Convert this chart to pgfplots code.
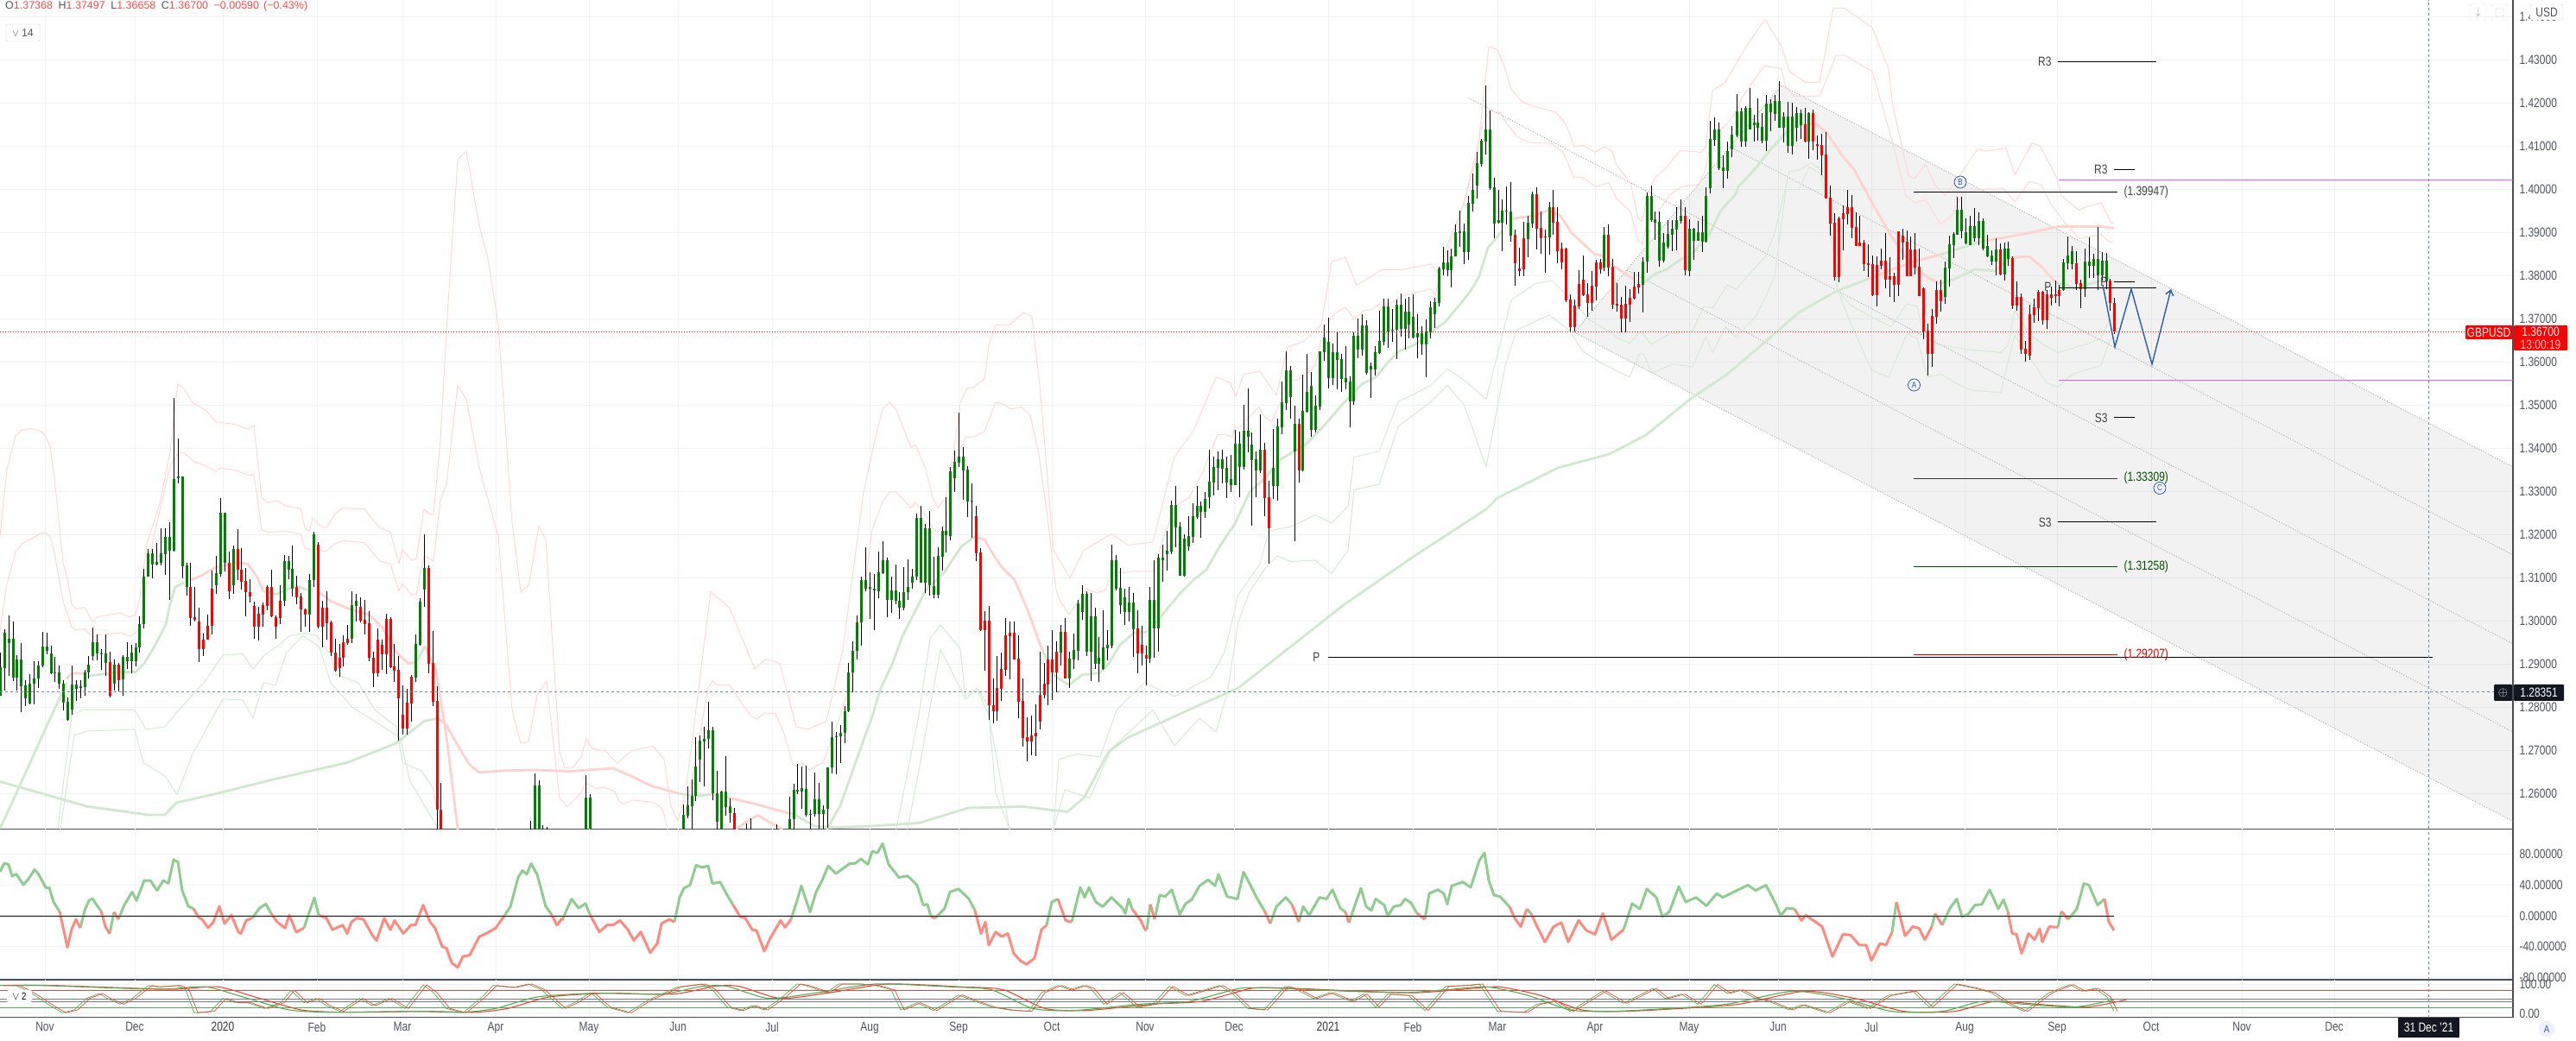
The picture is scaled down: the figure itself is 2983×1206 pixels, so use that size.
\documentclass[border=0pt]{standalone}
\usepackage{fontspec}
\setmainfont[FakeStretch=0.8]{Liberation Sans}
\newfontfamily\hdr{Liberation Sans}
\usepackage{pgfplots}
\usepackage{pgfplotstable}
\pgfplotsset{compat=1.18}
\usetikzlibrary{arrows.meta}

\definecolor{upc}{HTML}{008000}
\definecolor{dnc}{HTML}{FF0000}
\definecolor{bandr}{HTML}{FFD8D6}
\definecolor{bandg}{HTML}{D6E8D6}
\definecolor{mar}{HTML}{FFD2D0}
\definecolor{mag}{HTML}{D2E7D0}
\definecolor{gridc}{HTML}{F0F3F6}
\definecolor{axc}{HTML}{4A4E59}
\definecolor{txt}{HTML}{50535E}
\definecolor{crossc}{HTML}{758696}
\definecolor{pinkc}{HTML}{E060F5}
\definecolor{zigc}{HTML}{2A5CAA}
\definecolor{ccig}{HTML}{8FCC8F}
\definecolor{ccir}{HTML}{FF8A80}
\definecolor{fibc}{HTML}{A8A8A8}
\definecolor{darkc}{HTML}{131722}
\definecolor{stg}{HTML}{4CAF50}
\definecolor{str}{HTML}{F44336}
\definecolor{stm}{HTML}{787B86}
\definecolor{hdrr}{HTML}{FF4A4A}

\newcommand{\tv}{\fontsize{15}{16}\selectfont}

% daily GBPUSD candles: x in chart pixels, price read off the scale
\pgfplotstableread{
x o h l c
0 1.2826 1.2926 1.2826 1.2892
5 1.2890 1.2980 1.2839 1.2972
10 1.2948 1.3012 1.2872 1.2959
15 1.2869 1.2999 1.2860 1.2959
19 1.2869 1.2920 1.2839 1.2911
24 1.2849 1.2949 1.2788 1.2911
29 1.2820 1.2862 1.2802 1.2851
34 1.2808 1.2877 1.2807 1.2855
39 1.2854 1.2906 1.2806 1.2867
44 1.2866 1.2906 1.2844 1.2897
49 1.2896 1.2974 1.2892 1.2941
54 1.2931 1.2972 1.2922 1.2941
59 1.2879 1.2942 1.2876 1.2924
63 1.2879 1.2916 1.2858 1.2881
68 1.2854 1.2897 1.2842 1.2880
73 1.2811 1.2862 1.2792 1.2855
78 1.2771 1.2822 1.2769 1.2812
83 1.2794 1.2897 1.2782 1.2852
88 1.2842 1.2862 1.2814 1.2852
93 1.2844 1.2862 1.2820 1.2849
98 1.2847 1.2887 1.2826 1.2880
102 1.2880 1.2919 1.2866 1.2899
107 1.2919 1.2984 1.2908 1.2951
112 1.2924 1.2969 1.2909 1.2951
117 1.2922 1.2934 1.2886 1.2924
122 1.2902 1.2969 1.2872 1.2924
127 1.2904 1.2929 1.2822 1.2827
132 1.2854 1.2911 1.2839 1.2899
137 1.2899 1.2902 1.2836 1.2862
142 1.2864 1.2920 1.2826 1.2917
147 1.2907 1.2951 1.2889 1.2917
152 1.2907 1.2944 1.2878 1.2927
157 1.2907 1.2949 1.2894 1.2939
161 1.2938 1.3011 1.2927 1.2992
166 1.2992 1.3121 1.2982 1.3103
171 1.3102 1.3167 1.3102 1.3157
176 1.3130 1.3166 1.3099 1.3157
181 1.3131 1.3181 1.3129 1.3137
186 1.3135 1.3214 1.3129 1.3156
191 1.3154 1.3214 1.3106 1.3195
196 1.3162 1.3229 1.3049 1.3195
201 1.3162 1.3516 1.3161 1.3329
206 1.3331 1.3422 1.3319 1.3335
211 1.3127 1.3334 1.3098 1.3334
216 1.3078 1.3135 1.3058 1.3129
220 1.3079 1.3134 1.2988 1.3007
225 1.3009 1.3079 1.2999 1.3002
230 1.2999 1.3031 1.2904 1.2934
235 1.2957 1.2971 1.2919 1.2934
240 1.2989 1.3015 1.2956 1.2956
245 1.3075 1.3117 1.2968 1.2988
250 1.3083 1.3151 1.3062 1.3111
255 1.3109 1.3285 1.3102 1.3251
260 1.3134 1.3251 1.3114 1.3251
265 1.3135 1.3161 1.3051 1.3069
270 1.3082 1.3175 1.3062 1.3167
275 1.3167 1.3212 1.3094 1.3118
279 1.3119 1.3169 1.3072 1.3091
284 1.3092 1.3122 1.3011 1.3066
289 1.3067 1.3097 1.3042 1.3056
294 1.3035 1.3044 1.2959 1.2987
299 1.3017 1.3032 1.2954 1.2987
304 1.3037 1.3042 1.2987 1.3015
309 1.3079 1.3083 1.3024 1.3035
314 1.3079 1.3119 1.3009 1.3010
319 1.3009 1.3012 1.2959 1.2987
324 1.3047 1.3083 1.2992 1.3007
329 1.3046 1.3152 1.3034 1.3139
334 1.3119 1.3151 1.3096 1.3139
338 1.3075 1.3174 1.3056 1.3121
343 1.3079 1.3104 1.3039 1.3055
348 1.3057 1.3064 1.2974 1.3026
353 1.3027 1.3029 1.2987 1.3015
358 1.3015 1.3109 1.2974 1.3095
363 1.3094 1.3207 1.3079 1.3200
368 1.3177 1.3183 1.2982 1.2987
373 1.3031 1.3047 1.2939 1.2987
378 1.3031 1.3069 1.2956 1.2995
383 1.2997 1.3000 1.2919 1.2926
388 1.2927 1.2959 1.2882 1.2884
393 1.2915 1.2946 1.2870 1.2891
397 1.2951 1.2967 1.2894 1.2914
402 1.2959 1.2991 1.2944 1.2949
407 1.2958 1.3069 1.2949 1.3037
412 1.3035 1.3063 1.2999 1.3047
417 1.3033 1.3054 1.2996 1.3000
422 1.3003 1.3049 1.2969 1.2993
427 1.2995 1.3023 1.2906 1.2914
432 1.2915 1.2929 1.2847 1.2879
437 1.2957 1.2982 1.2871 1.2879
442 1.2945 1.2956 1.2886 1.2923
447 1.3005 1.3017 1.2876 1.2923
452 1.3005 1.3009 1.2891 1.2892
456 1.2895 1.2947 1.2858 1.2885
461 1.2887 1.2919 1.2722 1.2821
466 1.2783 1.2851 1.2737 1.2751
471 1.2811 1.2842 1.2736 1.2751
476 1.2871 1.2874 1.2767 1.2809
481 1.2869 1.2969 1.2859 1.2947
486 1.2945 1.3052 1.2942 1.3045
491 1.3073 1.3201 1.3032 1.3123
496 1.3123 1.3129 1.2879 1.2901
501 1.2903 1.2977 1.2802 1.2813
506 1.2815 1.2849 1.2500 1.2563
510 1.2563 1.2624 1.2400 1.2450
614 1.2400 1.2536 1.2380 1.2500
619 1.2480 1.2647 1.2450 1.2619
624 1.2500 1.2631 1.2470 1.2619
628 1.2450 1.2527 1.2420 1.2500
633 1.2450 1.2523 1.2420 1.2500
678 1.2480 1.2643 1.2450 1.2591
683 1.2500 1.2599 1.2470 1.2591
791 1.2480 1.2574 1.2450 1.2551
796 1.2549 1.2616 1.2542 1.2572
801 1.2571 1.2632 1.2519 1.2595
805 1.2594 1.2731 1.2582 1.2662
810 1.2678 1.2735 1.2626 1.2722
815 1.2721 1.2755 1.2616 1.2727
820 1.2726 1.2812 1.2704 1.2747
825 1.2600 1.2754 1.2584 1.2747
830 1.2534 1.2652 1.2500 1.2600
835 1.2500 1.2606 1.2480 1.2604
840 1.2569 1.2687 1.2549 1.2604
845 1.2554 1.2589 1.2532 1.2571
850 1.2554 1.2567 1.2460 1.2480
864 1.2490 1.2531 1.2450 1.2470
869 1.2490 1.2542 1.2450 1.2470
899 1.2490 1.2529 1.2450 1.2470
914 1.2490 1.2592 1.2470 1.2541
919 1.2540 1.2622 1.2500 1.2609
923 1.2604 1.2668 1.2598 1.2609
928 1.2604 1.2662 1.2565 1.2612
933 1.2551 1.2664 1.2547 1.2611
938 1.2551 1.2562 1.2519 1.2552
943 1.2552 1.2648 1.2546 1.2587
948 1.2552 1.2624 1.2519 1.2587
953 1.2552 1.2572 1.2519 1.2563
958 1.2564 1.2661 1.2521 1.2660
963 1.2660 1.2767 1.2646 1.2731
968 1.2730 1.2742 1.2644 1.2732
973 1.2732 1.2759 1.2671 1.2741
978 1.2740 1.2802 1.2716 1.2790
982 1.2790 1.2902 1.2789 1.2881
987 1.2880 1.2953 1.2835 1.2931
992 1.2930 1.3012 1.2910 1.2997
997 1.2996 1.3103 1.2943 1.3095
1002 1.3075 1.3171 1.3069 1.3095
1007 1.3074 1.3112 1.3004 1.3079
1012 1.3070 1.3109 1.2979 1.3074
1017 1.3069 1.3161 1.3052 1.3112
1022 1.3111 1.3184 1.3109 1.3141
1027 1.3048 1.3147 1.3008 1.3141
1032 1.3049 1.3102 1.3018 1.3071
1037 1.3046 1.3131 1.3039 1.3071
1041 1.3031 1.3067 1.3004 1.3047
1046 1.3031 1.3124 1.3024 1.3067
1051 1.3066 1.3143 1.3048 1.3079
1056 1.3089 1.3121 1.3074 1.3103
1061 1.3102 1.3249 1.3094 1.3239
1066 1.3089 1.3267 1.3089 1.3239
1071 1.3089 1.3224 1.3064 1.3215
1076 1.3083 1.3255 1.3058 1.3215
1081 1.3061 1.3149 1.3052 1.3080
1086 1.3061 1.3171 1.3052 1.3151
1091 1.3149 1.3219 1.3116 1.3209
1095 1.3198 1.3286 1.3159 1.3209
1100 1.3197 1.3357 1.3186 1.3347
1105 1.3331 1.3395 1.3299 1.3369
1110 1.3367 1.3483 1.3356 1.3381
1115 1.3349 1.3403 1.3281 1.3381
1120 1.3277 1.3359 1.3241 1.3351
1125 1.3276 1.3319 1.3192 1.3279
1130 1.3243 1.3267 1.3139 1.3157
1135 1.3159 1.3169 1.2977 1.2979
1140 1.3001 1.3023 1.2884 1.2979
1145 1.3001 1.3035 1.2771 1.2804
1150 1.2805 1.2866 1.2762 1.2791
1154 1.2845 1.2919 1.2769 1.2791
1159 1.2889 1.2927 1.2814 1.2843
1164 1.2967 1.3007 1.2872 1.2887
1169 1.2973 1.2999 1.2864 1.2965
1174 1.2973 1.2999 1.2911 1.2911
1179 1.2913 1.2967 1.2774 1.2813
1184 1.2815 1.2867 1.2709 1.2729
1189 1.2731 1.2777 1.2674 1.2721
1194 1.2735 1.2781 1.2689 1.2721
1199 1.2741 1.2806 1.2686 1.2733
1204 1.2829 1.2929 1.2749 1.2767
1209 1.2855 1.2903 1.2821 1.2829
1213 1.2911 1.2943 1.2804 1.2853
1218 1.2911 1.2979 1.2817 1.2881
1223 1.2929 1.2952 1.2834 1.2881
1228 1.2927 1.2991 1.2897 1.2975
1233 1.2975 1.3007 1.2866 1.2866
1238 1.2867 1.2929 1.2844 1.2913
1243 1.2911 1.2971 1.2889 1.2933
1248 1.2931 1.3049 1.2909 1.3041
1253 1.3021 1.3083 1.3002 1.3063
1258 1.2929 1.3069 1.2919 1.3063
1263 1.2929 1.3065 1.2861 1.3011
1268 1.2901 1.3031 1.2889 1.3011
1272 1.2901 1.2963 1.2859 1.2915
1277 1.2889 1.3025 1.2887 1.2939
1282 1.2937 1.2979 1.2909 1.2945
1287 1.2943 1.3177 1.2937 1.3141
1292 1.3075 1.3153 1.3071 1.3141
1297 1.3037 1.3123 1.3017 1.3077
1302 1.3021 1.3075 1.2991 1.3055
1307 1.3021 1.3079 1.2999 1.3043
1312 1.2981 1.3065 1.2916 1.3043
1317 1.2983 1.3025 1.2879 1.2925
1322 1.2945 1.2989 1.2897 1.2925
1327 1.2921 1.2943 1.2851 1.2913
1331 1.2913 1.3079 1.2903 1.3049
1336 1.2983 1.3141 1.2914 1.3049
1341 1.2983 1.3155 1.2929 1.3147
1346 1.3141 1.3177 1.3091 1.3147
1351 1.3155 1.3209 1.3117 1.3163
1356 1.3161 1.3279 1.3155 1.3269
1361 1.3217 1.3313 1.3171 1.3269
1366 1.3105 1.3229 1.3105 1.3219
1371 1.3105 1.3201 1.3103 1.3191
1376 1.3173 1.3243 1.3163 1.3197
1381 1.3195 1.3273 1.3181 1.3243
1386 1.3241 1.3313 1.3236 1.3267
1390 1.3253 1.3277 1.3193 1.3267
1395 1.3253 1.3299 1.3238 1.3283
1400 1.3287 1.3397 1.3261 1.3323
1405 1.3321 1.3381 1.3291 1.3357
1410 1.3355 1.3393 1.3303 1.3375
1415 1.3353 1.3397 1.3319 1.3375
1420 1.3321 1.3381 1.3284 1.3355
1425 1.3315 1.3385 1.3299 1.3329
1430 1.3315 1.3443 1.3314 1.3411
1435 1.3357 1.3439 1.3286 1.3411
1440 1.3357 1.3501 1.3351 1.3441
1445 1.3427 1.3539 1.3390 1.3441
1449 1.3373 1.3437 1.3221 1.3409
1454 1.3349 1.3393 1.3287 1.3375
1459 1.3349 1.3479 1.3343 1.3397
1464 1.3397 1.3413 1.3243 1.3285
1469 1.3287 1.3325 1.3133 1.3215
1474 1.3313 1.3445 1.3283 1.3355
1479 1.3313 1.3469 1.3279 1.3451
1484 1.3449 1.3555 1.3433 1.3507
1489 1.3505 1.3625 1.3489 1.3581
1494 1.3519 1.3591 1.3469 1.3581
1499 1.3393 1.3499 1.3185 1.3457
1504 1.3457 1.3469 1.3321 1.3349
1508 1.3349 1.3571 1.3346 1.3487
1513 1.3484 1.3619 1.3482 1.3531
1518 1.3443 1.3577 1.3427 1.3545
1523 1.3443 1.3522 1.3437 1.3499
1528 1.3497 1.3625 1.3489 1.3625
1533 1.3623 1.3687 1.3603 1.3657
1538 1.3563 1.3703 1.3539 1.3647
1543 1.3563 1.3643 1.3546 1.3623
1548 1.3605 1.3671 1.3537 1.3623
1553 1.3561 1.3619 1.3531 1.3607
1558 1.3553 1.3637 1.3537 1.3563
1563 1.3509 1.3567 1.3449 1.3555
1567 1.3509 1.3669 1.3501 1.3661
1572 1.3629 1.3701 1.3609 1.3661
1577 1.3629 1.3711 1.3615 1.3685
1582 1.3575 1.3697 1.3571 1.3685
1587 1.3583 1.3599 1.3517 1.3591
1592 1.3583 1.3637 1.3569 1.3623
1597 1.3621 1.3719 1.3619 1.3649
1602 1.3647 1.3746 1.3639 1.3729
1607 1.3671 1.3746 1.3633 1.3729
1612 1.3673 1.3723 1.3647 1.3675
1617 1.3675 1.3745 1.3607 1.3733
1622 1.3677 1.3759 1.3659 1.3733
1627 1.3677 1.3747 1.3629 1.3717
1631 1.3687 1.3751 1.3655 1.3717
1636 1.3657 1.3757 1.3655 1.3705
1641 1.3657 1.3711 1.3609 1.3667
1646 1.3641 1.3683 1.3617 1.3667
1651 1.3641 1.3699 1.3565 1.3671
1656 1.3669 1.3741 1.3655 1.3727
1661 1.3711 1.3749 1.3679 1.3739
1666 1.3737 1.3821 1.3729 1.3817
1671 1.3815 1.3867 1.3801 1.3831
1676 1.3813 1.3859 1.3799 1.3831
1680 1.3813 1.3863 1.3773 1.3845
1685 1.3845 1.3919 1.3845 1.3901
1690 1.3899 1.3951 1.3867 1.3903
1695 1.3855 1.3921 1.3827 1.3903
1700 1.3855 1.3985 1.3837 1.3969
1705 1.3967 1.4037 1.3949 1.3999
1710 1.4009 1.4087 1.3979 1.4061
1715 1.4059 1.4117 1.4053 1.4113
1720 1.4111 1.4241 1.4081 1.4139
1725 1.4003 1.4183 1.3999 1.4139
1730 1.3921 1.4027 1.3887 1.4005
1735 1.3923 1.3999 1.3921 1.3929
1739 1.3923 1.3977 1.3857 1.3951
1744 1.3948 1.4007 1.3919 1.3951
1749 1.3893 1.4017 1.3879 1.3949
1754 1.3895 1.3907 1.3777 1.3829
1759 1.3817 1.3865 1.3799 1.3811
1764 1.3887 1.3925 1.3799 1.3815
1769 1.3885 1.3939 1.3843 1.3923
1774 1.3921 1.3995 1.3911 1.3989
1779 1.3989 1.4005 1.3861 1.3909
1784 1.3911 1.3949 1.3851 1.3887
1789 1.3891 1.3907 1.3807 1.3888
1794 1.3889 1.3971 1.3849 1.3959
1798 1.3959 1.3999 1.3895 1.3923
1803 1.3925 1.3959 1.3829 1.3857
1808 1.3863 1.3877 1.3815 1.3831
1813 1.3863 1.3865 1.3739 1.3743
1818 1.3745 1.3757 1.3671 1.3681
1823 1.3731 1.3745 1.3671 1.3681
1828 1.3781 1.3813 1.3723 1.3729
1833 1.3791 1.3847 1.3752 1.3755
1838 1.3757 1.3783 1.3705 1.3737
1843 1.3777 1.3811 1.3719 1.3737
1848 1.3831 1.3837 1.3743 1.3775
1853 1.3831 1.3839 1.3805 1.3815
1857 1.3819 1.3913 1.3811 1.3895
1862 1.3895 1.3919 1.3799 1.3819
1867 1.3821 1.3839 1.3723 1.3733
1872 1.3735 1.3783 1.3717 1.3731
1877 1.3733 1.3751 1.3669 1.3701
1882 1.3735 1.3777 1.3669 1.3701
1887 1.3749 1.3769 1.3693 1.3733
1892 1.3775 1.3809 1.3745 1.3747
1897 1.3781 1.3809 1.3759 1.3773
1902 1.3779 1.3843 1.3715 1.3833
1907 1.3833 1.3993 1.3807 1.3985
1912 1.3929 1.4009 1.3925 1.3985
1916 1.3923 1.3949 1.3883 1.3931
1921 1.3835 1.3949 1.3821 1.3925
1926 1.3835 1.3899 1.3831 1.3877
1931 1.3867 1.3929 1.3863 1.3897
1936 1.3895 1.3929 1.3857 1.3909
1941 1.3907 1.3959 1.3859 1.3929
1946 1.3927 1.3977 1.3921 1.3939
1951 1.3939 1.3959 1.3801 1.3813
1956 1.3811 1.3931 1.3799 1.3909
1961 1.3881 1.3911 1.3837 1.3909
1966 1.3881 1.3927 1.3881 1.3901
1971 1.3879 1.3939 1.3855 1.3901
1975 1.3879 1.4005 1.3877 1.3985
1980 1.4003 1.4159 1.3991 1.4117
1985 1.4115 1.4167 1.4101 1.4139
1990 1.4049 1.4155 1.4045 1.4139
1995 1.4043 1.4079 1.4003 1.4051
2000 1.4043 1.4111 1.4025 1.4089
2005 1.4093 1.4147 1.4075 1.4127
2011 1.4124 1.4221 1.4121 1.4181
2016 1.4111 1.4189 1.4098 1.4181
2021 1.4111 1.4193 1.4099 1.4189
2026 1.4139 1.4235 1.4139 1.4189
2031 1.4149 1.4173 1.4110 1.4155
2035 1.4143 1.4211 1.4113 1.4155
2040 1.4113 1.4177 1.4107 1.4145
2045 1.4113 1.4219 1.4089 1.4199
2050 1.4179 1.4209 1.4135 1.4199
2055 1.4175 1.4219 1.4159 1.4205
2060 1.4143 1.4251 1.4143 1.4205
2065 1.4143 1.4179 1.4109 1.4169
2070 1.4101 1.4203 1.4085 1.4169
2075 1.4101 1.4201 1.4081 1.4169
2080 1.4143 1.4191 1.4111 1.4177
2085 1.4149 1.4185 1.4117 1.4177
2090 1.4151 1.4189 1.4109 1.4111
2094 1.4111 1.4179 1.4071 1.4177
2099 1.4177 1.4185 1.4091 1.4111
2104 1.4105 1.4125 1.4069 1.4101
2109 1.4103 1.4129 1.4033 1.4079
2114 1.4081 1.4133 1.3979 1.3979
2119 1.3981 1.4009 1.3893 1.3921
2124 1.3923 1.3945 1.3789 1.3797
2129 1.3933 1.3937 1.3785 1.3797
2134 1.3945 1.3963 1.3859 1.3931
2139 1.3959 1.3999 1.3919 1.3943
2144 1.3959 1.3987 1.3887 1.3911
2149 1.3913 1.3947 1.3869 1.3869
2153 1.3877 1.3939 1.3869 1.3869
2158 1.3877 1.3883 1.3811 1.3827
2163 1.3829 1.3873 1.3797 1.3825
2168 1.3827 1.3846 1.3752 1.3755
2173 1.3825 1.3845 1.3729 1.3755
2178 1.3835 1.3863 1.3815 1.3823
2183 1.3835 1.3899 1.3771 1.3791
2188 1.3799 1.3843 1.3751 1.3791
2193 1.3799 1.3807 1.3739 1.3779
2198 1.3903 1.3903 1.3753 1.3779
2203 1.3893 1.3909 1.3837 1.3877
2208 1.3879 1.3905 1.3799 1.3799
2212 1.3861 1.3891 1.3799 1.3799
2217 1.3861 1.3899 1.3803 1.3819
2222 1.3821 1.3863 1.3753 1.3753
2227 1.3771 1.3773 1.3653 1.3671
2232 1.3673 1.3689 1.3569 1.3619
2237 1.3707 1.3723 1.3589 1.3619
2242 1.3767 1.3787 1.3689 1.3705
2247 1.3767 1.3791 1.3717 1.3741
2252 1.3751 1.3833 1.3735 1.3819
2257 1.3817 1.3893 1.3775 1.3873
2262 1.3871 1.3901 1.3841 1.3897
2266 1.3895 1.3983 1.3895 1.3953
2271 1.3903 1.3983 1.3887 1.3953
2276 1.3875 1.3933 1.3873 1.3901
2281 1.3871 1.3939 1.3871 1.3915
2286 1.3887 1.3957 1.3879 1.3915
2291 1.3887 1.3947 1.3871 1.3927
2296 1.3863 1.3933 1.3859 1.3927
2301 1.3845 1.3895 1.3843 1.3869
2306 1.3833 1.3859 1.3825 1.3847
2311 1.3833 1.3887 1.3801 1.3861
2316 1.3861 1.3875 1.3801 1.3803
2321 1.3803 1.3877 1.3789 1.3863
2325 1.3839 1.3879 1.3823 1.3863
2330 1.3841 1.3845 1.3723 1.3731
2335 1.3751 1.3787 1.3719 1.3731
2340 1.3751 1.3759 1.3619 1.3629
2345 1.3631 1.3649 1.3601 1.3619
2350 1.3711 1.3733 1.3605 1.3615
2355 1.3727 1.3747 1.3691 1.3709
2360 1.3763 1.3767 1.3695 1.3725
2365 1.3763 1.3765 1.3687 1.3697
2370 1.3757 1.3767 1.3677 1.3697
2375 1.3757 1.3775 1.3731 1.3749
2380 1.3757 1.3789 1.3737 1.3753
2384 1.3767 1.3779 1.3729 1.3753
2389 1.3767 1.3839 1.3765 1.3831
2394 1.3829 1.3891 1.3815 1.3847
2399 1.3827 1.3869 1.3815 1.3857
2404 1.3829 1.3857 1.3767 1.3781
2409 1.3783 1.3791 1.3725 1.3769
2414 1.3769 1.3863 1.3751 1.3833
2419 1.3823 1.3889 1.3795 1.3833
2424 1.3823 1.3851 1.3795 1.3839
2429 1.3801 1.3913 1.3766 1.3839
2434 1.3801 1.3855 1.3789 1.3835
2439 1.3787 1.3853 1.3769 1.3835
2443 1.3789 1.3793 1.3719 1.3737
2448 1.37368 1.37497 1.36658 1.36700
}\ohlc

% fast and slow stochastic lines of the lowest pane
\pgfplotstableread{
x y
0 97
19 97
38 67
53 37
72 2
86 12
100 52
115 69
124 52
139 32
153 52
172 97
182 92
206 97
215 82
225 2
244 7
258 52
273 37
287 37
306 17
325 37
337 80
352 37
366 52
378 27
394 7
416 52
431 27
450 52
469 17
490 99
502 72
517 17
536 2
560 62
571 97
593 90
612 102
627 82
651 17
665 37
684 72
703 22
727 2
751 47
785 92
813 102
825 82
842 22
857 10
871 27
885 12
904 52
923 102
933 97
957 72
971 102
995 102
1014 97
1032 82
1043 12
1062 37
1081 10
1110 64
1129 42
1148 22
1168 12
1191 7
1206 72
1225 97
1239 82
1254 97
1263 87
1278 32
1297 72
1316 22
1335 32
1354 94
1373 62
1412 97
1426 72
1445 17
1464 12
1488 94
1502 82
1521 52
1540 72
1564 42
1579 67
1593 22
1607 67
1631 62
1650 10
1674 94
1698 97
1713 102
1734 7
1765 4
1780 32
1799 42
1818 7
1856 77
1880 35
1914 87
1928 52
1947 67
1966 32
1985 100
2000 70
2014 82
2033 52
2048 42
2072 12
2086 30
2115 2
2139 42
2162 17
2186 62
2215 77
2234 22
2263 102
2287 87
2306 72
2325 32
2344 7
2373 72
2397 100
2411 77
2426 87
2440 57
2448 7
}\fastst
\pgfplotstableread{
x y
0 97
48 97
144 87
191 84
239 92
287 52
335 12
383 4
479 7
536 4
574 17
622 57
689 70
766 67
813 94
842 94
890 52
947 72
1014 102
1101 92
1148 82
1196 17
1244 10
1321 32
1378 42
1436 87
1483 87
1560 77
1627 72
1674 82
1722 92
1770 62
1818 12
1866 7
1933 17
2000 32
2076 77
2134 52
2191 7
2249 7
2296 42
2344 32
2402 22
2448 47
}\slowst

\pgfplotsset{
  pane/.style={
    scale only axis, width=2910pt, xmin=0, xmax=2910,
    axis x line*=bottom, axis y line*=right,
    axis line style={-,color=axc,line width=1.6pt},
    major tick length=0pt,
    grid=major, grid style={gridc,line width=1pt},
    xtick={52,156,258,367,466,574,682,785,894,1007,1110,1218,1326,1429,1538,1636,1734,1847,1956,2059,2167,2275,2382,2491,2596,2703},
    ticklabel style={font=\tv,text=txt},
    /pgf/number format/assume math mode=true,
    yticklabel style={xshift=4pt},
  },
  bnd/.style={bandr,line width=1pt,no marks,forget plot},
  gbnd/.style={bandg,line width=1pt,no marks,forget plot},
  mr/.style={mar,line width=2.8pt,no marks,forget plot},
  mg/.style={mag,line width=2.8pt,no marks,forget plot},
  forkl/.style={fibc,line width=1pt,dotted,no marks,forget plot},
  lev/.style={black,line width=1pt,no marks,forget plot},
  wick/.style={draw=none,no markers,mark size=0pt,forget plot,error bars/.cd,y dir=plus,y explicit,error mark=none,error bar style={draw=black,line width=1pt}},
  bodyg/.style={draw=none,no markers,mark size=0pt,forget plot,error bars/.cd,y dir=plus,y explicit,error mark=none,error bar style={draw=upc,line width=3pt}},
  bodyr/.style={draw=none,no markers,mark size=0pt,forget plot,error bars/.cd,y dir=plus,y explicit,error mark=none,error bar style={draw=dnc,line width=3pt}},
}
\tikzset{
  lab/.style={font=\tv,text=black!75},
  crc/.style={circle,draw=zigc,text=zigc,line width=0.8pt,inner sep=0pt,minimum size=14pt,font=\fontsize{10}{10}\selectfont},
}

\begin{document}
\begin{tikzpicture}
\useasboundingbox (0,0) rectangle (2983pt,1206pt);

% ---------- price pane
\begin{axis}[pane, at={(0pt,245.5pt)}, anchor=south west, height=960.5pt,
  ymin=1.2518, ymax=1.4439,
  ytick={1.26,1.27,1.28,1.29,1.30,1.31,1.32,1.33,1.34,1.35,1.36,1.37,1.38,1.39,1.40,1.41,1.42,1.43,1.44},
  yticklabel style={/pgf/number format/.cd,fixed,fixed zerofill,precision=5},
  xticklabels={}]

% pitchfork
\addplot[fill=black,fill opacity=0.05,draw=none,forget plot] coordinates {(1823,1.3669)(2063,1.4241)(2910,1.3357)(2910,1.2536)} -- cycle;
\addplot[forkl] coordinates {(1823,1.3669)(2063,1.4241)(2910,1.3357)};
\addplot[forkl] coordinates {(2003,1.4099)(2910,1.3153)};
\addplot[forkl] coordinates {(1700.5,1.4212)(2910,1.2947)};
\addplot[forkl] coordinates {(1884,1.3813)(2910,1.2743)};
\addplot[forkl] coordinates {(1823,1.3669)(2910,1.2536)};

% outer upper band
\addplot[bnd] coordinates {(0,1.3196)(8,1.3352)(18,1.3429)(25,1.3442)(35,1.3446)(47,1.3440)(53,1.3429)(58,1.3402)(63,1.3332)(73,1.3135)(78,1.3099)(83,1.3039)(88,1.3028)(98,1.3032)(107,1.3000)(113,1.3010)(140,1.3019)(150,1.3009)(157,1.3015)(162,1.3052)(170,1.3179)(185,1.3272)(197,1.3392)(202,1.3486)(206,1.3549)(213,1.3539)(223,1.3506)(238,1.3489)(250,1.3462)(260,1.3459)(272,1.3456)(288,1.3444)(294,1.3454)(303,1.3286)(310,1.3274)(320,1.3279)(333,1.3266)(348,1.3261)(353,1.3216)(358,1.3208)(362,1.3239)(372,1.3219)(378,1.3216)(388,1.3249)(397,1.3262)(422,1.3259)(430,1.3239)(440,1.3216)(452,1.3206)(462,1.3134)(466,1.3166)(477,1.3140)(482,1.3144)(491,1.3259)(497,1.3249)(502,1.3247)(510,1.3420)(518,1.3706)(530,1.4069)(540,1.4088)(555,1.3916)(565,1.3840)(577,1.3686)(593,1.3227)(603,1.3068)(612,1.3081)(624,1.3221)(632,1.3189)(648,1.2698)(654,1.2660)(664,1.2662)(673,1.2685)(679,1.2727)(686,1.2704)(702,1.2698)(715,1.2670)(730,1.2698)(756,1.2711)(769,1.2679)(777,1.2570)(785,1.2538)(794,1.2602)(823,1.3068)(845,1.3030)(874,1.2889)(887,1.2912)(903,1.2902)(912,1.2832)(922,1.2755)(935,1.2749)(957,1.2768)(976,1.2934)(1000,1.3299)(1010,1.3392)(1022,1.3492)(1030,1.3507)(1038,1.3489)(1055,1.3402)(1060,1.3409)(1072,1.3352)(1080,1.3286)(1086,1.3262)(1095,1.3286)(1103,1.3372)(1112,1.3506)(1120,1.3539)(1128,1.3542)(1140,1.3561)(1145,1.3639)(1153,1.3686)(1169,1.3686)(1185,1.3715)(1195,1.3706)(1204,1.3546)(1220,1.3164)(1239,1.3100)(1255,1.3164)(1287,1.3202)(1306,1.3176)(1335,1.3183)(1360,1.3380)(1383,1.3444)(1408,1.3565)(1424,1.3553)(1431,1.3521)(1440,1.3572)(1459,1.3578)(1478,1.3523)(1491,1.3635)(1510,1.3648)(1530,1.3686)(1542,1.3833)(1558,1.3843)(1571,1.3778)(1600,1.3814)(1622,1.3814)(1657,1.3827)(1667,1.3801)(1692,1.3948)(1711,1.4082)(1724,1.4331)(1734,1.4324)(1743,1.4279)(1750,1.4232)(1763,1.4202)(1777,1.4192)(1802,1.4179)(1813,1.4152)(1823,1.4099)(1833,1.4102)(1847,1.4086)(1858,1.4099)(1867,1.4089)(1872,1.4056)(1888,1.4016)(1897,1.3932)(1902,1.3926)(1907,1.3986)(1917,1.4029)(1928,1.4046)(1945,1.4089)(1955,1.4089)(1970,1.4086)(1975,1.4099)(1983,1.4229)(1997,1.4246)(2010,1.4290)(2025,1.4340)(2044,1.4394)(2063,1.4331)(2072,1.4273)(2091,1.4248)(2107,1.4248)(2123,1.4420)(2136,1.4420)(2168,1.4375)(2187,1.4279)(2192,1.4192)(2210,1.4032)(2217,1.4025)(2230,1.4059)(2240,1.4012)(2252,1.3986)(2267,1.4026)(2290,1.4094)(2300,1.4089)(2323,1.4096)(2333,1.4034)(2353,1.4107)(2362,1.4102)(2382,1.4026)(2387,1.3986)(2407,1.3952)(2415,1.3959)(2433,1.3969)(2445,1.3922)(2448,1.3923)};
% inner upper band
\addplot[bnd] coordinates {(0,1.2979)(8,1.3086)(18,1.3159)(25,1.3179)(48,1.3204)(53,1.3204)(58,1.3196)(63,1.3159)(73,1.3046)(83,1.2986)(88,1.2979)(98,1.2982)(107,1.2962)(113,1.2967)(140,1.2973)(150,1.2965)(157,1.2972)(163,1.2985)(170,1.3092)(177,1.3186)(197,1.3359)(207,1.3391)(213,1.3389)(225,1.3369)(238,1.3360)(250,1.3347)(255,1.3354)(272,1.3350)(288,1.3338)(294,1.3340)(303,1.3212)(310,1.3206)(330,1.3208)(348,1.3202)(353,1.3169)(358,1.3167)(367,1.3166)(377,1.3161)(388,1.3179)(397,1.3186)(422,1.3182)(430,1.3162)(440,1.3139)(452,1.3132)(462,1.3070)(466,1.3086)(477,1.3060)(482,1.3062)(491,1.3152)(502,1.3139)(510,1.3279)(517,1.3317)(530,1.3546)(540,1.3514)(555,1.3355)(577,1.3195)(593,1.2794)(603,1.2717)(612,1.2720)(622,1.2829)(633,1.2860)(648,1.2590)(657,1.2570)(673,1.2602)(678,1.2625)(690,1.2612)(700,1.2615)(712,1.2605)(717,1.2582)(723,1.2577)(732,1.2585)(757,1.2580)(767,1.2565)(773,1.2519)(781,1.2400)(790,1.2519)(800,1.2619)(820,1.2844)(825,1.2862)(830,1.2852)(845,1.2852)(860,1.2806)(870,1.2779)(877,1.2773)(885,1.2787)(898,1.2785)(908,1.2739)(918,1.2669)(923,1.2662)(928,1.2672)(938,1.2655)(947,1.2667)(953,1.2671)(972,1.2775)(985,1.2859)(997,1.3019)(1003,1.3100)(1010,1.3212)(1022,1.3276)(1030,1.3299)(1038,1.3299)(1055,1.3262)(1060,1.3275)(1072,1.3245)(1080,1.3215)(1086,1.3206)(1095,1.3226)(1105,1.3359)(1118,1.3426)(1128,1.3427)(1140,1.3439)(1153,1.3507)(1163,1.3502)(1170,1.3491)(1183,1.3496)(1193,1.3476)(1203,1.3386)(1213,1.3239)(1223,1.3072)(1228,1.3045)(1238,1.3015)(1248,1.3045)(1258,1.3075)(1270,1.3065)(1280,1.3072)(1287,1.3112)(1300,1.3112)(1313,1.3115)(1335,1.3115)(1347,1.3192)(1357,1.3245)(1363,1.3269)(1377,1.3286)(1393,1.3346)(1410,1.3432)(1420,1.3432)(1427,1.3426)(1430,1.3449)(1437,1.3452)(1458,1.3496)(1465,1.3472)(1473,1.3462)(1483,1.3509)(1490,1.3556)(1503,1.3559)(1517,1.3579)(1523,1.3592)(1533,1.3679)(1547,1.3715)(1558,1.3727)(1568,1.3700)(1580,1.3720)(1588,1.3722)(1598,1.3735)(1603,1.3729)(1627,1.3755)(1647,1.3765)(1657,1.3769)(1662,1.3755)(1675,1.3866)(1695,1.3966)(1707,1.4066)(1717,1.4152)(1725,1.4182)(1737,1.4178)(1745,1.4152)(1757,1.4122)(1770,1.4109)(1797,1.4106)(1810,1.4086)(1823,1.4027)(1833,1.4027)(1848,1.4006)(1863,1.4016)(1872,1.3979)(1888,1.3949)(1897,1.3882)(1902,1.3874)(1908,1.3932)(1920,1.3949)(1933,1.3986)(1947,1.4006)(1967,1.4012)(1975,1.4046)(1982,1.4119)(2000,1.4152)(2010,1.4179)(2017,1.4212)(2040,1.4279)(2044,1.4286)(2063,1.4280)(2068,1.4236)(2078,1.4216)(2107,1.4216)(2120,1.4279)(2126,1.4311)(2136,1.4311)(2168,1.4273)(2173,1.4240)(2192,1.4106)(2207,1.3986)(2217,1.3969)(2230,1.3976)(2247,1.3920)(2260,1.3939)(2273,1.3992)(2290,1.3999)(2320,1.4002)(2333,1.3972)(2350,1.4018)(2363,1.4012)(2375,1.3966)(2390,1.3926)(2408,1.3886)(2433,1.3896)(2442,1.3879)(2447,1.3879)};

% lower bands, green
\addplot[gbnd] coordinates {(67,1.2519)(83,1.2781)(96,1.2794)(156,1.2794)(169,1.2749)(191,1.2755)(204,1.2787)(236,1.2857)(258,1.2921)(281,1.2924)(293,1.2889)(306,1.2921)(325,1.2947)(335,1.2966)(353,1.2972)(367,1.2966)(383,1.2921)(389,1.2877)(415,1.2857)(434,1.2794)(459,1.2755)(466,1.2672)(488,1.2653)(501,1.2615)(510,1.2519)(515,1.24)};
\addplot[gbnd] coordinates {(60,1.24)(70,1.2519)(86,1.2736)(102,1.2745)(156,1.2749)(166,1.2672)(191,1.2641)(205,1.2598)(223,1.2692)(258,1.2819)(281,1.2817)(293,1.2775)(305,1.2857)(319,1.2851)(332,1.2928)(351,1.2966)(370,1.2940)(383,1.2857)(408,1.2800)(434,1.2768)(463,1.2730)(475,1.2628)(498,1.2551)(507,1.2519)(512,1.24)};
\addplot[gbnd] coordinates {(1030,1.24)(1038,1.2519)(1064,1.2781)(1077,1.2959)(1089,1.2991)(1112,1.2936)(1118,1.2819)(1131,1.2845)(1144,1.2806)(1153,1.2602)(1169,1.2519)(1175,1.24)};
\addplot[gbnd] coordinates {(1045,1.24)(1051,1.2519)(1064,1.2653)(1089,1.2934)(1099,1.2896)(1118,1.2819)(1131,1.2845)(1145,1.2781)(1169,1.2519)(1175,1.24)};
\addplot[gbnd] coordinates {(1215,1.24)(1220,1.2519)(1226,1.2679)(1246,1.2692)(1274,1.2685)(1293,1.2794)(1325,1.2857)(1360,1.2825)(1402,1.2870)(1418,1.2928)(1434,1.3061)(1459,1.3132)(1469,1.3208)(1498,1.3221)(1523,1.3246)(1542,1.3227)(1561,1.3266)(1568,1.3380)(1597,1.3393)(1619,1.3508)(1657,1.3546)(1676,1.3584)(1695,1.3559)(1721,1.3514)(1750,1.3744)(1778,1.3782)(1797,1.3789)(1823,1.3737)(1840,1.3699)(1860,1.3675)(1877,1.3652)(1887,1.3644)(1900,1.3672)(1912,1.3641)(1933,1.3665)(1960,1.3672)(1973,1.3729)(1983,1.3725)(2000,1.3779)(2010,1.3769)(2045,1.3846)(2055,1.3899)(2072,1.4042)(2083,1.4044)(2097,1.4062)(2107,1.4049)(2115,1.4012)(2128,1.3766)(2143,1.3732)(2167,1.3705)(2190,1.3682)(2208,1.3735)(2220,1.3729)(2227,1.3665)(2240,1.3642)(2260,1.3635)(2280,1.3629)(2317,1.3622)(2325,1.3639)(2333,1.3719)(2350,1.3665)(2367,1.3639)(2383,1.3622)(2400,1.3632)(2417,1.3642)(2433,1.3655)(2443,1.3699)(2448,1.3719)};
\addplot[gbnd] coordinates {(1215,1.24)(1220,1.2519)(1233,1.2609)(1262,1.2590)(1287,1.2704)(1335,1.2794)(1360,1.2711)(1389,1.2775)(1408,1.2743)(1421,1.2832)(1434,1.2998)(1447,1.3068)(1466,1.3125)(1479,1.3151)(1494,1.3138)(1523,1.3141)(1542,1.3110)(1561,1.3164)(1568,1.3304)(1597,1.3317)(1619,1.3451)(1657,1.3508)(1676,1.3546)(1695,1.3502)(1721,1.3357)(1743,1.3591)(1756,1.3674)(1794,1.3709)(1817,1.3674)(1833,1.3625)(1853,1.3599)(1867,1.3585)(1887,1.3565)(1898,1.3619)(1903,1.3619)(1913,1.3575)(1937,1.3595)(1960,1.3589)(1975,1.3659)(1983,1.3622)(1998,1.3682)(2010,1.3659)(2033,1.3705)(2045,1.3752)(2055,1.3799)(2068,1.3999)(2083,1.3999)(2095,1.4052)(2108,1.4036)(2117,1.3959)(2128,1.3766)(2140,1.3705)(2167,1.3582)(2187,1.3565)(2208,1.3665)(2220,1.3655)(2232,1.3565)(2248,1.3572)(2267,1.3549)(2283,1.3535)(2317,1.3529)(2325,1.3599)(2333,1.3662)(2350,1.3612)(2370,1.3552)(2383,1.3542)(2400,1.3572)(2433,1.3592)(2442,1.3645)(2447,1.3659)};

% fast moving average, coloured by side of price
\addplot[mg] coordinates {(0,1.2519)(22,1.2615)(51,1.2743)(77,1.2857)};
\addplot[mr] coordinates {(77,1.2866)(83,1.2879)(100,1.2879)};
\addplot[mg] coordinates {(103,1.2873)(140,1.2882)(157,1.2882)(167,1.2902)(180,1.2945)(192,1.2992)(197,1.3039)(203,1.3079)(213,1.3089)};
\addplot[mr] coordinates {(220,1.3095)(233,1.3105)(250,1.3125)(277,1.3135)(287,1.3132)(297,1.3105)(305,1.3069)};
\addplot[mg] coordinates {(305,1.3069)(320,1.3062)(343,1.3082)(360,1.3069)};
\addplot[mr] coordinates {(368,1.3069)(383,1.3046)(403,1.3029)(427,1.3015)(443,1.2985)(460,1.2925)(473,1.2902)(480,1.2904)};
\addplot[mg] coordinates {(482,1.2905)(492,1.2942)};
\addplot[mr] coordinates {(492,1.2942)(505,1.2885)(517,1.2732)(530,1.2519)(535,1.24)};
\addplot[mr] coordinates {(845,1.24)(853,1.2519)(870,1.2542)(878,1.2550)(890,1.2535)(905,1.2519)(912,1.24)};
\addplot[mg] coordinates {(950,1.24)(958,1.2519)(973,1.2572)(993,1.2685)(1010,1.2779)(1020,1.2845)(1033,1.2899)(1045,1.2965)(1057,1.3012)(1072,1.3072)(1093,1.3112)(1113,1.3172)(1128,1.3195)};
\addplot[mr] coordinates {(1128,1.3195)(1140,1.3189)(1150,1.3155)(1160,1.3125)(1175,1.3095)(1190,1.3025)(1207,1.2932)};
\addplot[mg] coordinates {(1207,1.2932)(1222,1.2872)(1238,1.2852)(1253,1.2875)(1273,1.2880)(1283,1.2899)(1297,1.2945)(1313,1.2972)(1328,1.2975)(1340,1.2999)(1353,1.3032)(1367,1.3065)(1382,1.3095)(1397,1.3119)(1413,1.3175)(1430,1.3225)(1447,1.3299)(1465,1.3331)(1483,1.3375)(1500,1.3395)(1510,1.3405)(1533,1.3452)(1553,1.3499)(1577,1.3549)(1593,1.3565)(1607,1.3599)(1620,1.3625)(1640,1.3642)(1657,1.3669)(1673,1.3692)(1690,1.3732)(1703,1.3765)(1713,1.3799)(1723,1.3865)(1740,1.3905)};
\addplot[mr] coordinates {(1750,1.3932)(1777,1.3939)(1793,1.3952)(1807,1.3939)(1820,1.3899)(1847,1.3849)(1853,1.3849)(1867,1.3825)(1892,1.3792)};
\addplot[mg] coordinates {(1902,1.3782)(1917,1.3805)(1930,1.3815)(1947,1.3839)(1957,1.3845)(1980,1.3899)(1993,1.3952)(2010,1.3989)(2013,1.4006)(2033,1.4049)(2050,1.4092)(2068,1.4132)(2088,1.4152)};
\addplot[mr] coordinates {(2088,1.4152)(2103,1.4152)(2115,1.4132)(2133,1.4079)(2147,1.4046)(2167,1.3972)(2190,1.3892)(2213,1.3825)(2233,1.3795)(2247,1.3782)};
\addplot[mg] coordinates {(2247,1.3782)(2263,1.3792)(2287,1.3815)(2310,1.3812)(2328,1.3842)};
\addplot[mr] coordinates {(2328,1.3842)(2350,1.3845)(2365,1.3819)(2380,1.3785)};
\addplot[mg] coordinates {(2380,1.3785)(2403,1.3772)(2427,1.3785)(2443,1.3795)};

% slow moving average
\addplot[mg] coordinates {(0,1.2628)(102,1.2570)(172,1.2551)(191,1.2551)(204,1.2579)(242,1.2596)(319,1.2634)(402,1.2672)(459,1.2717)(491,1.2768)(507,1.2775)};
\addplot[mr] coordinates {(507,1.2775)(517,1.2759)(530,1.2712)(543,1.2669)(555,1.2649)(580,1.2653)(617,1.2655)(660,1.2652)(710,1.2659)(733,1.2639)(753,1.2619)(787,1.2600)};
\addplot[mg] coordinates {(787,1.2600)(807,1.2595)(825,1.2599)};
\addplot[mr] coordinates {(825,1.2599)(847,1.2589)(877,1.2575)(913,1.2555)};
\addplot[mg] coordinates {(913,1.2555)(920,1.2552)(943,1.2525)(960,1.2521)(1010,1.2525)(1064,1.2532)(1121,1.2567)(1185,1.2570)(1236,1.2558)(1255,1.2590)(1284,1.2698)(1306,1.2730)(1383,1.2800)(1434,1.2845)(1555,1.3036)(1638,1.3151)(1721,1.3259)(1734,1.3285)(1804,1.3355)(1864,1.3387)(1906,1.3431)(1957,1.3514)(2000,1.3572)(2043,1.3645)(2083,1.3715)(2127,1.3765)(2163,1.3792)};
\addplot[mr] coordinates {(2163,1.3792)(2187,1.3812)(2220,1.3835)(2247,1.3849)};
\addplot[mg] coordinates {(2247,1.3849)(2293,1.3879)};
\addplot[mr] coordinates {(2293,1.3879)(2350,1.3899)(2383,1.3914)(2433,1.3914)(2448,1.3910)};

% candles
\addplot[wick] table[x=x,y=l,y error plus expr=\thisrow{h}-\thisrow{l}] {\ohlc};
\addplot[restrict expr to domain={\thisrow{c}-\thisrow{o}}{0:1},bodyg] table[x=x,y=o,y error plus expr=\thisrow{c}-\thisrow{o}] {\ohlc};
\addplot[restrict expr to domain={\thisrow{o}-\thisrow{c}}{0.00001:1},bodyr] table[x=x,y=c,y error plus expr=\thisrow{o}-\thisrow{c}] {\ohlc};

% levels
\addplot[lev] coordinates {(2383,1.4296)(2497,1.4296)};
\addplot[lev] coordinates {(2447.5,1.4046)(2472,1.4046)};
\addplot[pinkc,line width=1.6pt,no marks,forget plot] coordinates {(2384,1.4022)(2910,1.4022)};
\addplot[lev] coordinates {(2216,1.3994)(2452,1.3994)};
\addplot[lev] coordinates {(2447.5,1.3786)(2472,1.3786)};
\addplot[lev] coordinates {(2384,1.3771)(2497,1.3771)};
\addplot[pinkc,line width=1.6pt,no marks,forget plot] coordinates {(2384,1.3558)(2910,1.3558)};
\addplot[lev] coordinates {(2447.5,1.3471)(2472,1.3471)};
\addplot[black!80,line width=0.8pt,no marks,forget plot] coordinates {(2216,1.3331)(2452,1.3331)};
\addplot[lev] coordinates {(2383,1.3229)(2497,1.3229)};
\addplot[green!30!black,line width=1pt,no marks,forget plot] coordinates {(2216,1.3126)(2452,1.3126)};
\addplot[red!85!black,line width=1pt,no marks,forget plot] coordinates {(2216,1.2921)(2452,1.2921)};
\addplot[lev,line width=1.3pt] coordinates {(1537.6,1.2916)(2817,1.2916)};
\addplot[zigc,line width=1.4pt,no marks,forget plot,-{Straight Barb[length=6pt,width=9pt]}] coordinates {(2435,1.3779)(2449,1.3635)(2468,1.3769)(2492,1.3595)(2514,1.3769)};

% price and crosshair lines
\addplot[dnc,dotted,line width=1pt,no marks,forget plot] coordinates {(0,1.3670)(2855,1.3670)};
\addplot[crossc,dashed,line width=1pt,no marks,forget plot] coordinates {(0,1.28351)(2910,1.28351)};
\addplot[crossc,dashed,line width=1pt,no marks,forget plot] coordinates {(2812,1.2518)(2812,1.4439)};

\node[lab,anchor=east] at (axis cs:2379,1.4296) {R3};
\node[lab,anchor=east] at (axis cs:2444,1.4046) {R3};
\node[lab,anchor=west] at (axis cs:2456,1.3994) {(1.39947)};
\node[lab,anchor=east] at (axis cs:2444,1.3786) {P};
\node[lab,anchor=east] at (axis cs:2379,1.3775) {P};
\node[lab,anchor=east] at (axis cs:2444,1.3471) {S3};
\node[lab,anchor=west,text=green!30!black] at (axis cs:2456,1.3331) {(1.33309)};
\node[lab,anchor=east] at (axis cs:2379,1.3229) {S3};
\node[lab,anchor=west,text=green!30!black] at (axis cs:2456,1.3126) {(1.31258)};
\node[lab,anchor=west,text=red!85!black] at (axis cs:2456,1.2921) {(1.29207)};
\node[lab,anchor=east] at (axis cs:1532,1.2916) {P};
\node[crc] at (axis cs:2216.5,1.3547) {A};
\node[crc] at (axis cs:2270,1.4017) {B};
\node[crc] at (axis cs:2501,1.3308) {C};
\end{axis}

% ---------- momentum pane
\begin{axis}[pane, at={(0pt,71pt)}, anchor=south west, height=174.5pt,
  ymin=-83.1, ymax=112.9, ytick={-80,-40,0,40,80},
  yticklabel style={/pgf/number format/.cd,fixed,fixed zerofill,precision=5},
  xticklabels={}, unbounded coords=jump]
\addplot[gray!40,line width=2.6pt,no marks,forget plot] coordinates {(0,0)(2448,0)};
\addplot[ccig,line width=3pt,no marks,forget plot,line join=round] coordinates {
(0,57.3)(5,68.5)(10,66.7)(14,51.7)(19,54.3)(27,40.4)(33,47.9)(40,60.3)(45,53.6)(53,36.7)(57,36.7)(62,18)(69,5.6)(69,nan)
(93,-15.7)(98,6.7)(103,19.8)(107,22.5)(113,12.4)(117,6.7)(117,nan)
(127,-23.2)(132,4.9)(132,nan)
(137,-4.5)(144,14.2)(153,31.1)(158,19.8)(167,46)(174,46)(182,33)(189,46)(195,42.3)(201,73)(206,70.4)(211,33)(218,12.4)(224,9.4)(224,nan)
(292,-3)(301,10.5)(308,15.4)(314,3)(314,nan)
(352,-16)(357,1)(364,23.6)(369,1)(369,nan)
(584,0)(591,12)(600,50)(605,59)(610,54)(615,68)(622,54)(632,12)(638,3)(638,nan)
(651,-6)(657,10)(662,22)(670,10)(678,16)(683,2)(683,nan)
(781,-8)(787,24)(792,36)(799,40)(806,66)(813,63)(820,65)(825,42)(834,44)(842,27)(849,14)(849,nan)
(916,-4.5)(923,20)(928,39)(938,5)(945,31)(952,46)(959,65)(968,55)(984,68)(990,68)(997,74)(1005,67)(1010,84)(1016,82)(1022,94)(1029,67)(1041,50)(1051,52)(1062,40)(1069,14)(1074,15)(1078,-1)(1078,nan)
(1083,-3)(1094,10)(1100,31)(1110,35)(1122,22)(1129,7)(1129,nan)
(1212,-12)(1218,18)(1225,22)(1225,nan)
(1241,-8)(1251,37)(1256,24)(1261,37)(1269,18)(1277,12)(1287,24)(1300,10)(1303,3)(1307,22)(1311,9)(1311,nan)
(1328,-18)(1332,15)(1332,nan)
(1337,-4.5)(1343,27)(1349,25)(1357,34)(1366,2)(1373,16)(1380,21)(1389,39)(1399,47)(1407,39)(1411,54)(1421,25)(1433,22)(1440,57)(1447,42)(1455,24)(1464,7)(1464,nan)
(1471,-10)(1478,12)(1489,24)(1496,15)(1496,nan)
(1504,-8)(1509,12)(1516,1)(1528,24)(1536,22)(1543,34)(1552,10)(1558,5)(1558,nan)
(1562,-9)(1569,14)(1576,36)(1582,12)(1588,7)(1593,22)(1603,14)(1607,0)(1614,12)(1622,14)(1627,22)(1634,17)(1641,3)(1641,nan)
(1650,-4.5)(1655,29)(1665,34)(1672,29)(1676,15)(1681,39)(1694,44)(1703,37)(1713,72)(1719,82)(1724,46)(1730,27)(1737,25)(1748,12)(1748,nan)
(1768,9)(1773,3)(1773,nan)
(1880,-18)(1890,16)(1899,9)(1907,35)(1918,24)(1925,-1)(1933,5)(1944,38)(1952,18)(1964,24)(1976,13)(1988,29)(1995,24)(2024,40)(2033,33)(2045,40)(2057,14)(2062,0)(2069,10)(2078,9)(2078,nan)
(2191,-21)(2196,18)(2196,nan)
(2237,-14)(2241,3)(2241,nan)
(2249,-12)(2258,10)(2266,22)(2272,-1)(2279,2)(2287,14)(2295,15)(2304,34)(2314,9)(2320,21)(2325,6)(2325,nan)
(2383,-15)(2387,6)(2387,nan)
(2395,-4.5)(2405,9)(2413,42)(2419,40)(2429,14)(2437,22)
};
\addplot[ccir,line width=3pt,no marks,forget plot,line join=round] coordinates {
(69,5.6)(75,-25)(78,-40.8)(83,-17.6)(88,-4.5)(93,-15.7)(93,nan)
(117,6.7)(122,-13.9)(127,-23.2)(127,nan)
(132,4.9)(137,-4.5)(137,nan)
(224,9.4)(230,-1.9)(234,-4.5)(241,-15.7)(247,-8.2)(254,12.4)(260,-10)(268,1)(276,-21)(279,-23)(285,-6)(292,-3)(292,nan)
(314,3)(321,-8)(330,-16)(335,1)(343,-21)(352,-16)(352,nan)
(369,1)(378,-3)(385,-18)(397,-12)(402,-23)(407,-8)(413,-3)(421,-4.5)(431,-25)(436,-32)(445,-3)(452,-18)(457,-6)(467,-23)(476,-12)(481,-12)(490,14)(498,-8)(504,-16)(512,-40)(517,-42)(523,-61)(530,-67)(536,-53)(544,-51)(555,-27)(563,-23)(574,-16)(584,0)(584,nan)
(638,3)(645,-12)(651,-3)(651,nan)
(683,2)(694,-21)(703,-12)(710,-12)(718,-6)(727,-18)(734,-32)(742,-21)(753,-48)(761,-36)(766,-10)(775,-4.5)(781,-8)(781,nan)
(849,14)(857,-1)(863,-3)(871,-18)(876,-19)(885,-46)(892,-29)(904,-6)(909,-15)(916,-4.5)(916,nan)
(1078,-1)(1083,-3)(1083,nan)
(1129,7)(1136,-23)(1141,-8)(1145,-38)(1153,-21)(1160,-27)(1167,-23)(1174,-49)(1182,-59)(1189,-63)(1198,-55)(1206,-18)(1212,-12)(1212,nan)
(1225,22)(1234,-6)(1241,-8)(1241,nan)
(1311,9)(1321,-6)(1326,-18)(1328,-18)(1328,nan)
(1332,15)(1337,-4.5)(1337,nan)
(1464,7)(1471,-10)(1471,nan)
(1496,15)(1504,-8)(1504,nan)
(1558,5)(1562,-9)(1562,nan)
(1641,3)(1650,-4.5)(1650,nan)
(1748,12)(1754,-3)(1761,-14)(1768,9)(1768,nan)
(1773,3)(1780,-14)(1789,-34)(1799,-14)(1808,-9)(1816,-34)(1828,-6)(1837,-19)(1847,-24)(1856,3)(1866,-31)(1880,-18)(1880,nan)
(2078,9)(2086,-6)(2091,1)(2110,-14)(2122,-53)(2134,-24)(2143,-25)(2153,-38)(2161,-38)(2167,-58)(2177,-36)(2184,-38)(2191,-21)(2191,nan)
(2196,18)(2206,-26)(2215,-14)(2222,-16)(2229,-31)(2237,-14)(2237,nan)
(2241,3)(2249,-12)(2249,nan)
(2325,6)(2330,-23)(2335,-24)(2341,-49)(2349,-23)(2356,-31)(2362,-17)(2365,-34)(2373,-14)(2383,-15)(2383,nan)
(2387,6)(2395,-4.5)(2395,nan)
(2437,22)(2442,-8)(2448,-19)
};
\addplot[black!85,line width=1pt,no marks,forget plot] coordinates {(0,0)(2448,0)};
\addplot[crossc,dashed,line width=1pt,no marks,forget plot] coordinates {(2812,-83.1)(2812,112.9)};
\end{axis}

% ---------- stochastic pane
\begin{axis}[pane, at={(0pt,27.3pt)}, anchor=south west, height=43.7pt,
  ymin=-14.1, ymax=117, ytick={0,100},
  yticklabel style={/pgf/number format/.cd,fixed,fixed zerofill,precision=2},
  xticklabels={Nov,Dec,{\textcolor{black!80}{2020}},Feb,Mar,Apr,May,Jun,Jul,Aug,Sep,Oct,Nov,Dec,{\textcolor{black!80}{2021}},Feb,Mar,Apr,May,Jun,Jul,Aug,Sep,Oct,Nov,Dec},
  xticklabel style={yshift=-2pt}]
\addplot[stm,line width=1.2pt,no marks,forget plot] coordinates {(0,50)(2910,50)};
\addplot[stm,line width=1.2pt,no marks,forget plot] coordinates {(0,41)(2910,41)};
\addplot[str,line width=1.2pt,no marks,forget plot] coordinates {(0,80)(2910,80)};
\addplot[stg,line width=1.2pt,no marks,forget plot] coordinates {(0,20)(2910,20)};
\addplot[str,line width=1.1pt,smooth,tension=0.4,no marks,forget plot] table[x expr=\thisrow{x}+14,y=y] {\slowst};
\addplot[stg,line width=1.1pt,smooth,tension=0.4,no marks,forget plot] table[x=x,y=y] {\slowst};
\addplot[stg,line width=0.7pt,no marks,forget plot] table[x=x,y=y] {\fastst};
\addplot[str,line width=0.7pt,no marks,forget plot] table[x expr=\thisrow{x}+4,y=y] {\fastst};
\addplot[crossc,dashed,line width=1pt,no marks,forget plot] coordinates {(2812,-14.1)(2812,117)};
\end{axis}

% ---------- chart furniture on top of the panes
\node[anchor=west,inner sep=0pt,font=\hdr\fontsize{12.5}{14}\selectfont,text=txt] at (6pt,1198.5pt) {O\textcolor{hdrr}{1.37368}\hspace{6.5pt}H\textcolor{hdrr}{1.37497}\hspace{6.5pt}L\textcolor{hdrr}{1.36658}\hspace{6.5pt}C\textcolor{hdrr}{1.36700}\hspace{6.5pt}\textcolor{hdrr}{−0.00590\hspace{5pt}(−0.43\%)}};
\node[draw=black!20,rounded corners=2pt,fill=white,minimum width=39pt,minimum height=20pt,inner sep=0pt,font=\hdr\fontsize{12.5}{14}\selectfont,text=txt] at (26.5pt,1168pt) {$\vee$\hspace{3pt}14};
\node[draw=black!20,rounded corners=2pt,fill=white,minimum width=29pt,minimum height=14pt,inner sep=0pt,font=\fontsize{12}{12}\selectfont,text=black] at (22.5pt,52pt) {$\vee$ 2};

\node[fill=red,text=white,rounded corners=1pt,minimum width=54pt,minimum height=16pt,inner sep=0pt,font=\tv] at (2882pt,821pt) {GBPUSD};
\node[fill=red,rounded corners=1pt,minimum width=62pt,minimum height=29pt,inner sep=0pt] at (2942pt,814.5pt) {};
\node[text=white,inner sep=0pt,font=\tv] at (2942pt,821.5pt) {1.36700};
\node[text=white!80!red,inner sep=0pt,font=\tv] at (2942pt,806.5pt) {13:00:19};
\node[fill=darkc,text=white,rounded corners=1pt,minimum width=58pt,minimum height=19pt,inner sep=0pt,font=\tv] at (2940pt,403.5pt) {1.28351};
\node[fill=darkc,text=white,rounded corners=1pt,minimum width=21pt,minimum height=19pt,inner sep=0pt,font=\tv] at (2898.5pt,403.5pt) {$\oplus$};
\node[fill=darkc,text=white,minimum width=71pt,minimum height=23pt,inner sep=0pt,font=\tv] at (2812.5pt,15.5pt) {31 Dec '21};
\node[draw=black!15,fill=white,rounded corners=2pt,minimum width=38pt,minimum height=18pt,inner sep=0pt,font=\tv,text=txt] at (2949pt,1192pt) {USD};
\node[draw=black!10,rounded corners=2pt,minimum width=19pt,minimum height=19pt,inner sep=0pt,font=\fontsize{12}{12}\selectfont,text=black!40] at (2869.5pt,1191.5pt) {$\downarrow$};
\node[draw=black!10,rounded corners=2pt,minimum width=19pt,minimum height=19pt,inner sep=0pt] at (2894.5pt,1191.5pt) {};
\node[draw=black!25,rounded corners=1pt,minimum width=9pt,minimum height=9pt,inner sep=0pt] at (2894.5pt,1191.5pt) {};
\node[circle,fill=blue!6,text=zigc,minimum size=19pt,inner sep=0pt,font=\fontsize{12}{12}\selectfont] at (2949pt,14pt) {A};
\end{tikzpicture}
\end{document}
